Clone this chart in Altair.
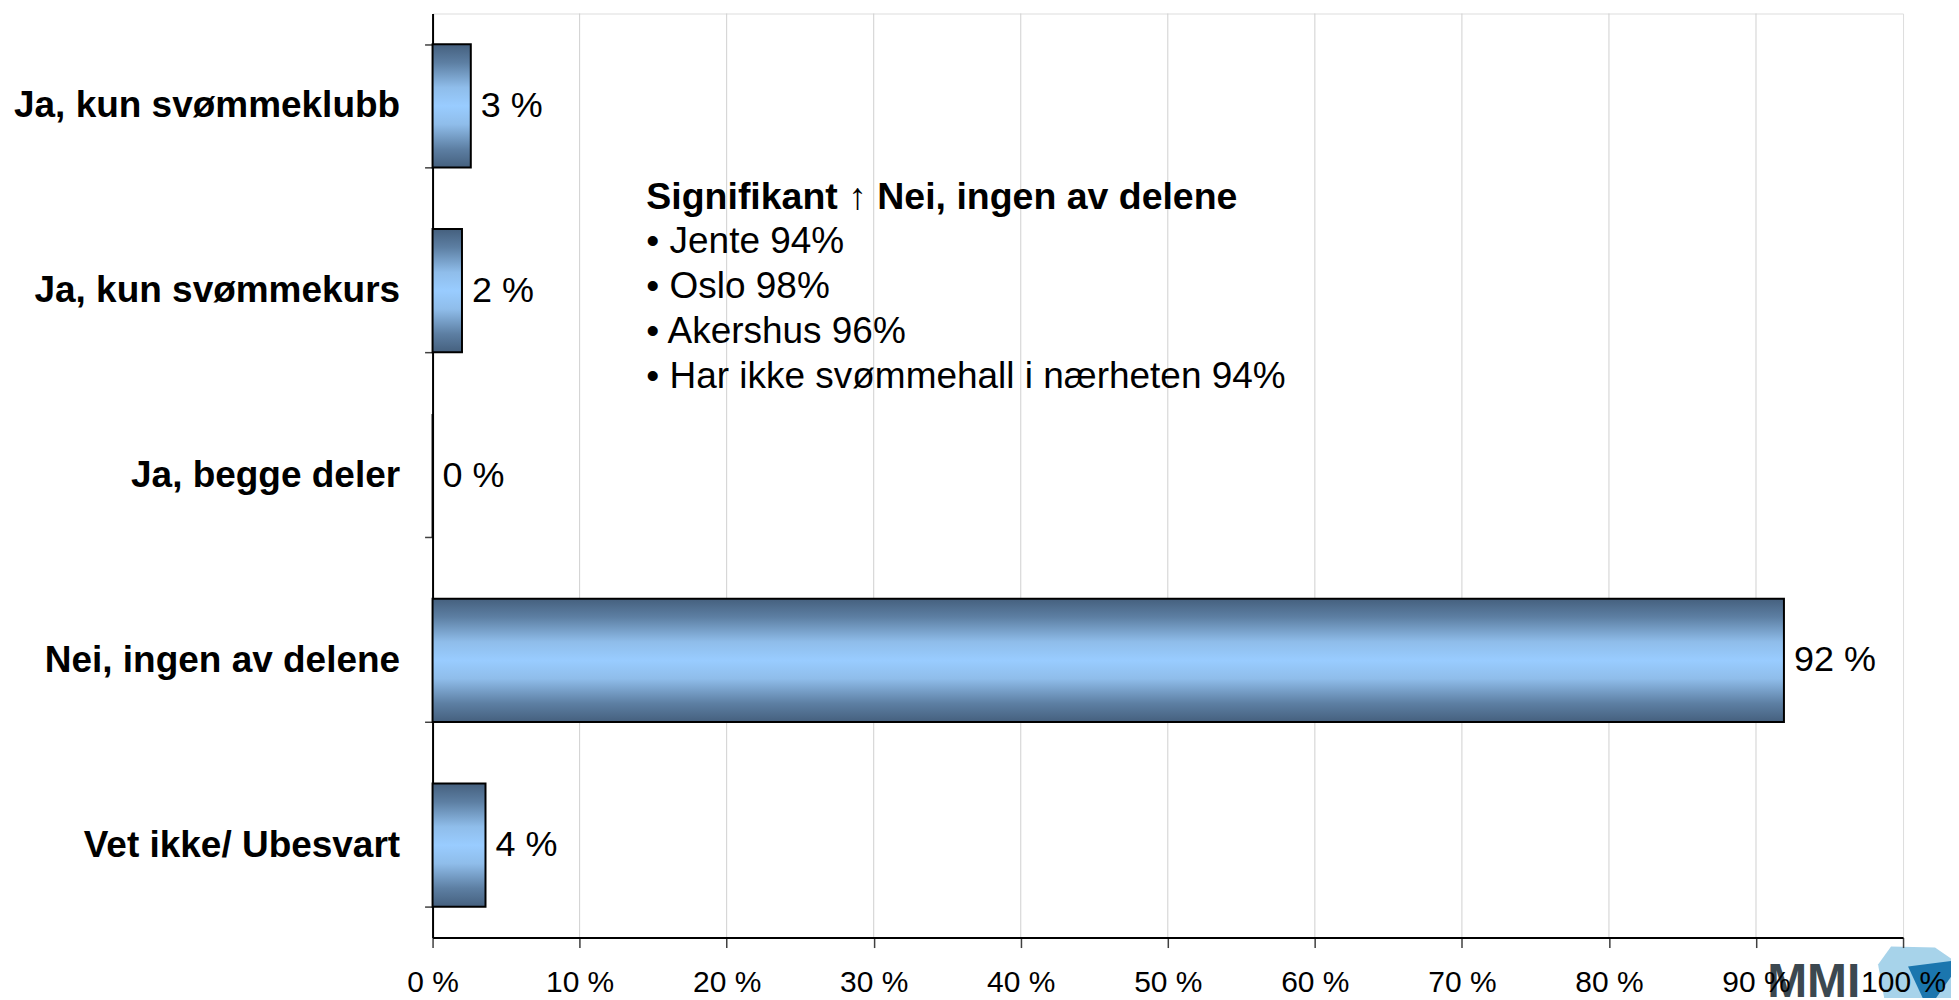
import altair as alt
import pandas as pd

# ---- data ----
categories = [
    "Ja, kun svømmeklubb",
    "Ja, kun svømmekurs",
    "Ja, begge deler",
    "Nei, ingen av delene",
    "Vet ikke/ Ubesvart",
]
values = [2.6, 2.0, 0.0, 91.9, 3.6]
value_labels = ["3 %", "2 %", "0 %", "92 %", "4 %"]
x_ticks = [0, 10, 20, 30, 40, 50, 60, 70, 80, 90, 100]

note_title = "Signifikant ↑ Nei, ingen av delene"
note_lines = [
    "• Jente 94%",
    "• Oslo 98%",
    "• Akershus 96%",
    "• Har ikke svømmehall i nærheten 94%",
]
logo_text = "MMI"

FONT = "Liberation Sans"
W, H = 1472, 925

df = pd.DataFrame({"kategori": categories, "andel": values, "etikett": value_labels})
grid_df = pd.DataFrame({"andel": x_ticks[1:-1]})

y_enc = alt.Y(
    "kategori:N",
    sort=categories,
    scale=alt.Scale(paddingInner=1 / 3, paddingOuter=1 / 6),
    axis=alt.Axis(
        title=None,
        labelFontSize=37,
        labelFontWeight="bold",
        labelColor="black",
        labelFont=FONT,
        tickBand="extent",
        tickSize=8,
        tickColor="#404040",
        tickWidth=1.5,
        domainColor="black",
        domainWidth=2,
        labelPadding=25,
        grid=False,
        labelLimit=700,
    ),
)
x_scale = alt.Scale(domain=[0, 100], nice=False)
x_enc = alt.X(
    "andel:Q",
    scale=x_scale,
    axis=alt.Axis(
        title=None,
        values=x_ticks,
        labelExpr="datum.value + ' %'",
        labelFontSize=30,
        labelFont=FONT,
        labelColor="black",
        tickSize=10,
        tickColor="#404040",
        tickWidth=1.5,
        domainColor="black",
        domainWidth=2,
        grid=False,
        labelPadding=20,
        labelFlush=False,
        labelOverlap=False,
        zindex=1,
    ),
)

gradient = alt.LinearGradient(
    gradient="linear",
    x1=0, x2=0, y1=0, y2=1,
    stops=[
        alt.GradientStop(color="#45607e", offset=0),
        alt.GradientStop(color="#5d7fa3", offset=0.15),
        alt.GradientStop(color="#8fbdea", offset=0.35),
        alt.GradientStop(color="#99ccff", offset=0.5),
        alt.GradientStop(color="#8fbdea", offset=0.65),
        alt.GradientStop(color="#5d7fa3", offset=0.85),
        alt.GradientStop(color="#45607e", offset=1),
    ],
)

gridlines = alt.Chart(grid_df).mark_rule(color="#d0d0d0", strokeWidth=1).encode(
    x=alt.X("andel:Q", scale=x_scale)
)

base = alt.Chart(df)
bars = base.mark_bar(color=gradient, stroke="black", strokeWidth=2).encode(x=x_enc, y=y_enc)
texts = base.mark_text(
    align="left", baseline="middle", dx=10, fontSize=36, font=FONT, color="black"
).encode(x="andel:Q", y=alt.Y("kategori:N", sort=categories), text="etikett:N")

layers = [gridlines, bars, texts]

title_df = pd.DataFrame({"t": [note_title]})
layers.append(
    alt.Chart(title_df).mark_text(
        align="left", baseline="middle", fontSize=37.5, fontWeight="bold", font=FONT, color="black"
    ).encode(x=alt.value(214), y=alt.value(185), text="t:N")
)
for i, line in enumerate(note_lines):
    layers.append(
        alt.Chart(pd.DataFrame({"t": [line]})).mark_text(
            align="left", baseline="middle", fontSize=37, font=FONT, color="black"
        ).encode(x=alt.value(214), y=alt.value(229 + 45 * i), text="t:N")
    )

# logo (MMI text + pentagon)
layers.append(
    alt.Chart(pd.DataFrame({"s": ["p"]})).mark_point(
        shape="M-0.64,-0.76 L0.24,-0.74 L0.94,-0.26 L0.5,0.7 L-0.7,0.7 L-0.9,-0.4 Z",
        filled=True, color="#a7d3ea", opacity=1, size=10000,
    ).encode(x=alt.value(1492), y=alt.value(972))
)
layers.append(
    alt.Chart(pd.DataFrame({"s": ["p"]})).mark_point(
        shape="M-0.3,-0.36 L0.8,-0.5 L0.1,0.5 Z",
        filled=True, color="#1b76ae", opacity=1, size=10000,
    ).encode(x=alt.value(1492), y=alt.value(972))
)
layers.append(
    alt.Chart(pd.DataFrame({"t": [logo_text]})).mark_text(
        align="left", baseline="alphabetic", fontSize=48, fontWeight="bold",
        font=FONT, color="#3c4850"
    ).encode(x=alt.value(1336), y=alt.value(985), text="t:N")
)

chart = alt.layer(*layers).properties(
    width=W,
    height=H,
    autosize=alt.AutoSizeParams(type="none"),
    padding={"left": 425, "top": 5, "right": 48, "bottom": 60},
).configure_view(stroke="black", strokeWidth=2).configure(background="white")

chart.save("out.html", embed_options={"renderer": "svg", "actions": False})
